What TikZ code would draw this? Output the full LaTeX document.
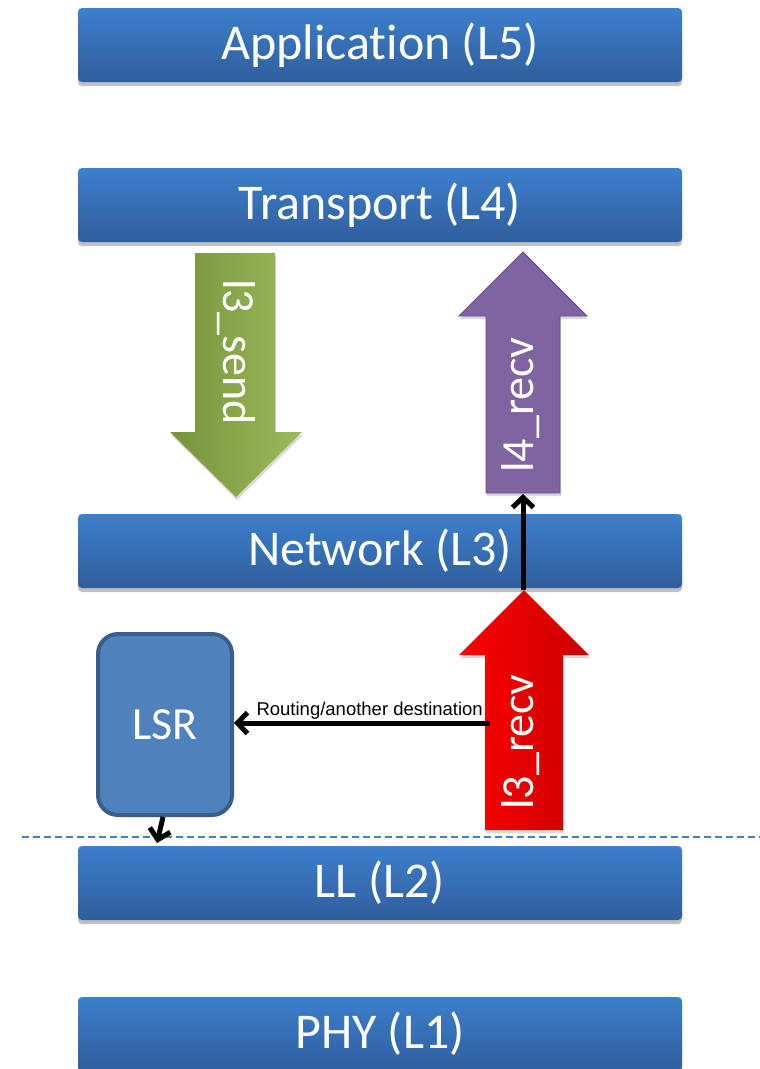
\documentclass[tikz,border=0pt]{standalone}
\usepackage{fontspec}
\setmainfont{Carlito}[Ligatures=NoCommon]
\newfontfamily\arialfont{Liberation Sans}
\usetikzlibrary{shadows,arrows.meta}

\definecolor{layertop}{HTML}{3D7FCC}
\definecolor{layerbot}{HTML}{2F5E9D}
\definecolor{greenleft}{HTML}{76933C}
\definecolor{greenright}{HTML}{9BBB59}
\definecolor{purplefill}{HTML}{8064A2}
\definecolor{purpleedge}{HTML}{654C86}
\definecolor{redleft}{HTML}{FF0000}
\definecolor{redright}{HTML}{C80000}
\definecolor{lsrfill}{HTML}{4F81BD}
\definecolor{lsredge}{HTML}{395E8C}
\definecolor{dashblue}{HTML}{4A7EBB}

\tikzset{
  softshadow/.style={drop shadow={fill=black, opacity=0.25, shadow xshift=0pt, shadow yshift=-4pt}},
  faintshadow/.style={drop shadow={fill=black, opacity=0.15, shadow xshift=1pt, shadow yshift=-3pt}},
  layer/.style={rectangle, rounded corners=4pt, minimum width=604pt, minimum height=74pt,
    inner sep=0pt, top color=layertop, bottom color=layerbot, text=white,
    font=\fontsize{50}{60}\selectfont, softshadow},
  lsrbox/.style={rectangle, rounded corners=20pt, minimum width=134pt, minimum height=181pt,
    line width=4pt, draw=lsredge, fill=lsrfill, text=white, font=\fontsize{46}{55}\selectfont},
  arrowtext/.style={text=white, font=\fontsize{46}{55}\selectfont, inner sep=0pt},
  conn/.style={line width=5pt, -{Straight Barb[length=10pt,width=21pt,line width=5pt]}},
  sepline/.style={dashblue, line width=1.5pt, dash pattern=on 7pt off 4pt},
  routelabel/.style={font=\arialfont\fontsize{18.5}{20}\selectfont, inner sep=1pt}
}

\begin{document}
\begin{tikzpicture}[x=1pt,y=-1pt]
\useasboundingbox (0,0) rectangle (760,1069);

% protocol layers
\node[layer] (app) at (380,45) {Applicat\kern0pt ion (L5)};
\node[layer] (transport) at (380,205) {Transport (L4)};
\node[layer] (network) at (380,551) {Network (L3)};
\node[layer] (ll) at (380,883) {LL (L2)};
\node[layer] (phy) at (380,1034) {PHY (L1)};

% boundary between network and link layer
\coordinate (sepL) at (22,837);
\coordinate (sepR) at (760,837);
\draw[sepline] (sepL) -- (sepR);

% l3_send: transport -> network
\path[faintshadow, left color=greenleft, right color=greenright]
  (195,253) -- (275,253) -- (275,432) -- (302,432) -- (236,497) -- (170,432) -- (195,432) -- cycle;
\node[arrowtext, rotate=-90] (send) at (236,352) {l3\_send};

% l4_recv: network -> transport
\path[faintshadow, fill=purplefill, draw=purpleedge, line width=0.8pt]
  (523,252) -- (587,316) -- (560,316) -- (560,493) -- (486,493) -- (486,316) -- (459,316) -- cycle;
\node[arrowtext, rotate=90] (l4recv) at (521,405) {l4\_recv};

% l3_recv: link layer -> network
\path[faintshadow, left color=redleft, right color=redright]
  (524,590) -- (589,655) -- (563,655) -- (563,830) -- (485,830) -- (485,655) -- (459,655) -- cycle;
\node[arrowtext, rotate=90] (l3recv) at (521,742) {l3\_recv};

% link state routing block
\node[lsrbox] (lsr) at (165,724.5) {LSR};

% connectors
\coordinate (redtip) at (523,590);
\coordinate (purplebase) at (523,494);
\draw[conn] (redtip) -- (purplebase);

\coordinate (split) at (490,723);
\draw[conn] (split) -- (lsr.east |- split)
  node[routelabel, pos=0.47, above=0pt] (routing) {Routing/another destination};

\coordinate (lsrout) at (157,843);
\draw[conn] ([xshift=-2pt]lsr.south) -- (lsrout);
\end{tikzpicture}
\end{document}
